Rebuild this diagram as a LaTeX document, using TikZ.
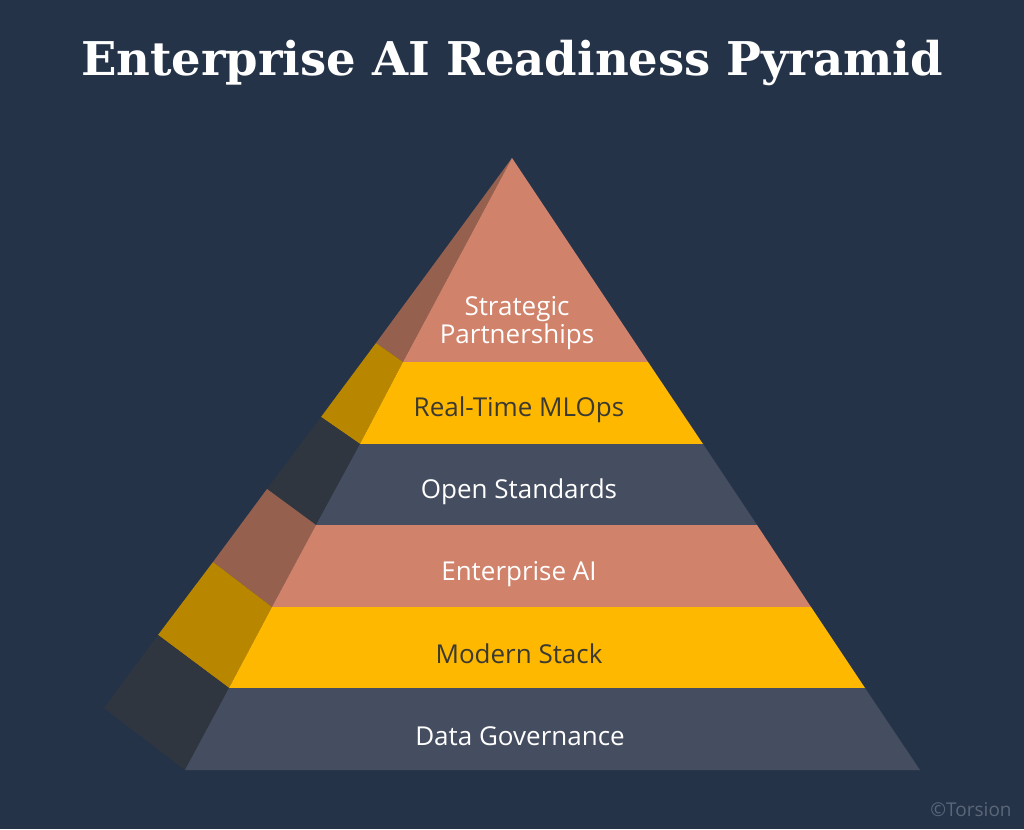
\documentclass[tikz,border=0pt]{standalone}
\usepackage{fontspec}
\setmainfont{Open Sans}
\newfontfamily\titlefont{DejaVu Serif}
\definecolor{bgBlue}{HTML}{253349}
\definecolor{terraFront}{HTML}{D1826A}
\definecolor{terraSide}{HTML}{96604E}
\definecolor{amberFront}{HTML}{FFB800}
\definecolor{amberSide}{HTML}{B98600}
\definecolor{slateFront}{HTML}{454D60}
\definecolor{slateSide}{HTML}{30363F}
\definecolor{inkDark}{HTML}{3B3A32}
\definecolor{markGrey}{HTML}{5B6677}

\begin{document}
\begin{tikzpicture}[x = 1pt, y = -1pt]
\tikzstyle{lightLabel}=[text = white, font = \fontsize{26}{28}\selectfont, align = center, inner sep = 0pt]
\tikzstyle{darkLabel}=[text = inkDark, font = \fontsize{26}{28}\selectfont, align = center, inner sep = 0pt]
\useasboundingbox (0, 0) rectangle (1024, 829);
\fill[bgBlue] (0, 0) rectangle (1024, 829);
% front corners
\coordinate (apex) at (512, 158);
\coordinate (l1) at (403, 362);
\coordinate (l2) at (360, 444);
\coordinate (l3) at (316, 525);
\coordinate (l4) at (272, 607);
\coordinate (l5) at (229, 688);
\coordinate (l6) at (185, 770);
\coordinate (r1) at (648, 362);
\coordinate (r2) at (703, 444);
\coordinate (r3) at (757, 525);
\coordinate (r4) at (811, 607);
\coordinate (r5) at (865, 688);
\coordinate (r6) at (920, 770);
% outer corners of the side face
\coordinate (s1) at (376, 343);
\coordinate (s2) at (321, 417);
\coordinate (s3) at (267, 489);
\coordinate (s4) at (213, 562);
\coordinate (s5) at (158, 635);
\coordinate (s6) at (104, 708);
% side face
\fill[terraSide] (apex) -- (l1) -- (s1) -- cycle;
\fill[amberSide] (s1) -- (l1) -- (l2) -- (s2) -- cycle;
\fill[slateSide] (s2) -- (l2) -- (l3) -- (s3) -- cycle;
\fill[terraSide] (s3) -- (l3) -- (l4) -- (s4) -- cycle;
\fill[amberSide] (s4) -- (l4) -- (l5) -- (s5) -- cycle;
\fill[slateSide] (s5) -- (l5) -- (l6) -- (s6) -- cycle;
% front face
\fill[terraFront] (apex) -- (r1) -- (l1) -- cycle;
\fill[amberFront] (l1) -- (r1) -- (r2) -- (l2) -- cycle;
\fill[slateFront] (l2) -- (r2) -- (r3) -- (l3) -- cycle;
\fill[terraFront] (l3) -- (r3) -- (r4) -- (l4) -- cycle;
\fill[amberFront] (l4) -- (r4) -- (r5) -- (l5) -- cycle;
\fill[slateFront] (l5) -- (r5) -- (r6) -- (l6) -- cycle;
% labels
\node[text = white, font = \titlefont\bfseries\fontsize{46.5}{54}\selectfont, inner sep = 0pt] (title) at (512, 63) {Enterprise AI Readiness Pyramid};
\node[lightLabel] (strategic) at (517, 323) {Strategic\\Partnerships};
\node[darkLabel] (mlops) at (519, 410) {Real-Time MLOps};
\node[lightLabel] (standards) at (519, 492) {Open Standards};
\node[lightLabel] (enterprise) at (519, 574) {Enterprise AI};
\node[darkLabel] (stack) at (519, 654) {Modern Stack};
\node[lightLabel] (governance) at (520, 736) {Data Governance};
\node[text = markGrey, font = \fontsize{19}{22}\selectfont, inner sep = 0pt] (mark) at (971, 810) {©Torsion};
\end{tikzpicture}
\end{document}
